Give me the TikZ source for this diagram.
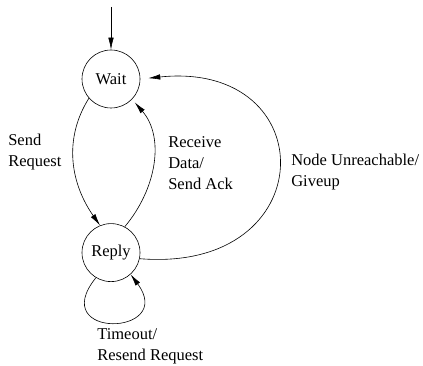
\documentclass[tikz,border=0pt]{standalone}
\usepackage{fontspec}
\setmainfont{Liberation Serif}
\usetikzlibrary{arrows.meta, positioning}

\begin{document}
\begin{tikzpicture}[
		x=1pt, y=1pt,
		every node/.style={font=\fontsize{16.5}{21}\selectfont},
		line width=0.6pt
	]
	\tikzstyle{State} = [ %the two states of the protocol
		circle,
		draw=black,
		minimum size=58pt,
		inner sep=0pt
	]
	\tikzstyle{Label} = [
		align=left,
		anchor=west,
		inner sep=0pt
	]
	\tikzstyle{Arr} = [
		-{Latex[length=12pt, width=5.5pt]}
	]
	\useasboundingbox (0,0) rectangle (423,-366);

	\node (wait) [State] at (111,-79) {Wait};
	\node (reply) [State, below = 115pt of wait] {Reply};
	\coordinate (start) at (111,-7);

	\draw[Arr] (start) -- (wait);
	\draw[Arr] (wait.221) to[out=238, in=125] (reply.112);
	\draw[Arr, shorten >=4pt] (reply.62) to[out=50, in=-49] (wait.-44);
	\draw[Arr, shorten >=8pt] (reply.-12) .. controls +(184,-15) and +(184,19) .. (wait.east);
	\draw[Arr] (reply.239) .. controls +(-50,-62) and +(46,-62) .. (reply.312);

	\node (send) [Label] at (8,-152) {Send\\Request};
	\node (recv) [Label] at (168,-163) {Receive\\Data/\\Send Ack};
	\node (giveup) [Label] at (291,-172.5) {Node Unreachable/\\Giveup};
	\node (timeout) [Label] at (97,-346.5) {Timeout/\\Resend Request};
\end{tikzpicture}
\end{document}
